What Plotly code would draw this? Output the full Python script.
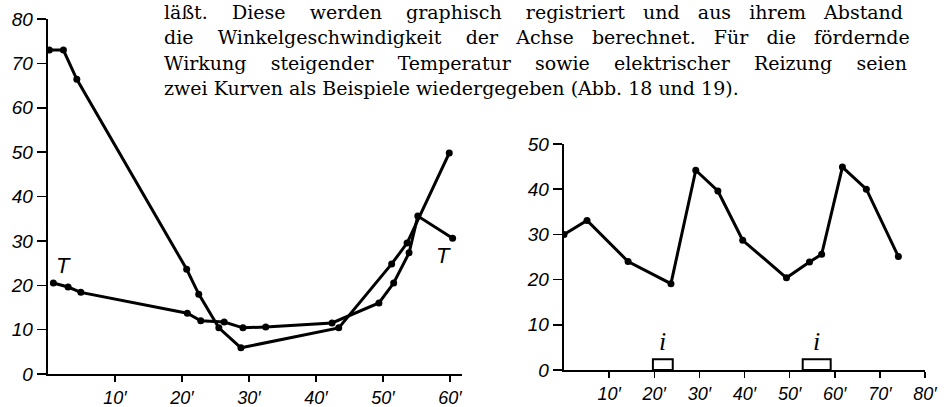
import plotly.graph_objects as go

W, H = 947, 407

# ---- data: left chart (Abb. 18) ----
a_x = [0.2, 2.3, 4.3, 20.7, 22.5, 25.5, 28.8, 43.4, 51.3, 53.6, 59.9]
a_y = [73, 73, 66.4, 23.6, 18, 10.4, 5.9, 10.4, 24.8, 29.5, 49.8]
t_x = [0.8, 3.0, 4.9, 20.8, 22.8, 26.3, 29.1, 32.5, 42.4, 49.4, 51.6, 53.9, 55.2, 60.4]
t_y = [20.5, 19.6, 18.4, 13.7, 12.0, 11.7, 10.4, 10.6, 11.5, 16.0, 20.5, 27.3, 35.6, 30.6]
left_xticks = [10, 20, 30, 40, 50, 60]
left_xlabels = ["10′", "20′", "30′", "40′", "50′", "60′"]
left_yticks = [0, 10, 20, 30, 40, 50, 60, 70, 80]

# ---- data: right chart (Abb. 19) ----
r_x = [0, 5.1, 14.2, 23.7, 29.2, 34.1, 39.6, 49.3, 54.4, 57.1, 61.7, 67.0, 74.1]
r_y = [30, 33.1, 24.0, 19.1, 44.2, 39.6, 28.7, 20.4, 23.9, 25.6, 44.9, 40.0, 25.1]
stim_start = [19.7, 52.9]
stim_end = [24.1, 59.1]
stim_height = [2.4, 2.4]
right_xticks = [10, 20, 30, 40, 50, 60, 70, 80]
right_xlabels = ["10′", "20′", "30′", "40′", "50′", "60′", "70′", "80′"]
right_yticks = [0, 10, 20, 30, 40, 50]

text_lines = [
    "läßt. Diese werden graphisch registriert und aus ihrem Abstand",
    "die Winkelgeschwindigkeit der Achse berechnet. Für die fördernde",
    "Wirkung steigender Temperatur sowie elektrischer Reizung seien",
    "zwei Kurven als Beispiele wiedergegeben (Abb. 18 und 19).",
]
# approximate natural widths (px) of the lines at font size 19, for justification
natural_w = [621, 650, 636, None]
justify_w = 744
NBSP_W = 6.0


def justify(txt, nat):
    if nat is None:
        return txt
    words = txt.split(" ")
    gaps = len(words) - 1
    n_extra = round((justify_w - nat) / NBSP_W)
    base, rem = divmod(n_extra, gaps)
    out = words[0]
    for i, w in enumerate(words[1:]):
        k = base + (1 if i < rem else 0)
        out += " " + "&nbsp;" * k + w
    return out


def px_x(p):
    return p / W


def px_y(p):
    return 1 - p / H


def ital(labels):
    return ["<i>" + str(s) + "</i>" for s in labels]


line_style = dict(color="black", width=3)
marker_style = dict(color="black", size=7)

fig = go.Figure()
fig.add_trace(go.Scatter(x=a_x, y=a_y, mode="lines+markers", line=line_style,
                         marker=marker_style, xaxis="x", yaxis="y", showlegend=False))
fig.add_trace(go.Scatter(x=t_x, y=t_y, mode="lines+markers", line=line_style,
                         marker=marker_style, xaxis="x", yaxis="y", showlegend=False))
fig.add_trace(go.Scatter(x=r_x, y=r_y, mode="lines+markers", line=line_style,
                         marker=marker_style, xaxis="x2", yaxis="y2", showlegend=False))

axis_common = dict(showgrid=False, zeroline=False, showline=True, linecolor="black",
                   linewidth=2.4, ticks="outside", tickwidth=1.5,
                   tickcolor="black", automargin=False)
xfont = dict(family="Liberation Sans", size=18, color="black")
yfont = dict(family="Liberation Sans", size=19, color="black")

fig.update_layout(
    template="none",
    width=W, height=H,
    margin=dict(l=0, r=0, t=0, b=0, pad=0),
    paper_bgcolor="white", plot_bgcolor="white",
    xaxis=dict(domain=[px_x(48), px_x(462)], range=[0, 61.8], tickvals=left_xticks,
               ticktext=ital(left_xlabels), anchor="y", ticklen=6, tickfont=xfont,
               **axis_common),
    yaxis=dict(domain=[px_y(374), px_y(19)], range=[0, 80], tickvals=left_yticks,
               ticktext=ital(left_yticks), anchor="x", ticklen=9, tickfont=yfont,
               **axis_common),
    xaxis2=dict(domain=[px_x(564), px_x(925)], range=[0, 80], tickvals=right_xticks,
                ticktext=ital(right_xlabels), anchor="y2", ticklen=6, tickfont=xfont,
                **axis_common),
    yaxis2=dict(domain=[px_y(370), px_y(144)], range=[0, 50], tickvals=right_yticks,
                ticktext=ital(right_yticks), anchor="x2", ticklen=9, tickfont=yfont,
                **axis_common),
)

for s, e, h in zip(stim_start, stim_end, stim_height):
    fig.add_shape(type="rect", xref="x2", yref="y2", x0=s, x1=e, y0=0, y1=h,
                  line=dict(color="black", width=2), fillcolor="rgba(0,0,0,0)")
    fig.add_annotation(xref="x2", yref="y2", x=(s + e) / 2, y=h, text="<i>i</i>",
                       showarrow=False, yanchor="bottom", yshift=1,
                       font=dict(family="Liberation Serif", size=26, color="black"))

fig.add_annotation(xref="x", yref="y", x=t_x[0], y=t_y[0], text="<i>T</i>", showarrow=False,
                   xanchor="left", yanchor="bottom", xshift=1, yshift=3,
                   font=dict(family="Liberation Sans", size=22, color="black"))
fig.add_annotation(xref="x", yref="y", x=t_x[-1], y=t_y[-1], text="<i>T</i>", showarrow=False,
                   xanchor="right", yanchor="top", xshift=0, yshift=-3,
                   font=dict(family="Liberation Sans", size=22, color="black"))

line_y = [12, 37, 63, 88]
for txt, yy, nat in zip(text_lines, line_y, natural_w):
    fig.add_annotation(xref="paper", yref="paper", x=px_x(162), y=px_y(yy),
                       text=justify(txt, nat), showarrow=False, xanchor="left",
                       yanchor="middle", align="left",
                       font=dict(family="DejaVu Serif", size=19, color="black"))

# remove the browser's default 8 px page margin so the figure fills the window
fig.write_html("out.html",
               config={"displayModeBar": False, "staticPlot": True},
               post_script="document.body.style.margin='0px';document.body.style.overflow='hidden';")
